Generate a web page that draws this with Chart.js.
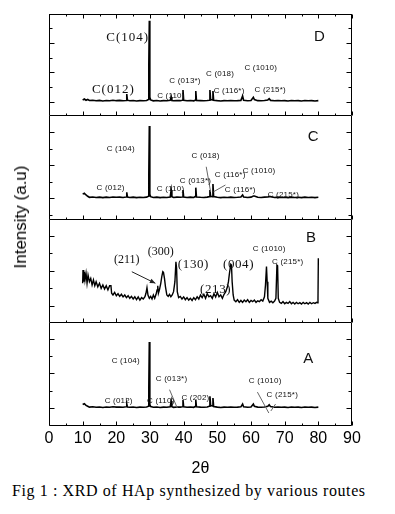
<!DOCTYPE html>
<html><head><meta charset="utf-8">
<script src="https://cdn.jsdelivr.net/npm/chart.js@4.4.1/dist/chart.umd.min.js"></script>
<style>
body{margin:0;background:#fff;width:395px;height:514px;position:relative;overflow:hidden}
canvas{position:absolute;left:0}
#ytitle{position:absolute;left:21px;top:217px;transform:translate(-50%,-50%) rotate(-90deg);font:17px "Liberation Sans";white-space:nowrap;color:#000}
#caption{position:absolute;left:12px;top:482px;line-height:20px;font:16px "Liberation Serif";letter-spacing:0.6px;white-space:nowrap;color:#000}
</style></head><body>
<canvas id="cD" width="395" height="102" style="top:14px"></canvas>
<canvas id="cC" width="395" height="104" style="top:116px"></canvas>
<canvas id="cB" width="395" height="103" style="top:220px"></canvas>
<canvas id="cA" width="395" height="155" style="top:323px"></canvas>
<div id="ytitle">Intensity (a.u)</div>
<div id="caption">Fig 1 : XRD of HAp synthesized by various routes</div>
<script>
// ---------- data ----------
const xTickValues = [0,10,20,30,40,50,60,70,80,90];

// 2θ sampling used for the calcite-rich patterns (A, C, D)
const xCal = [10,10.5,11,11.5,12,13,14,15,16,17,18,19,20,21,22,22.9,23.1,23.3,24,25,26,27,28,29,29.5,29.65,29.8,29.95,30.2,31,32,33,34,35,36,36.3,36.5,37,38,39,39.6,39.8,40,41,42,43,43.4,43.6,43.8,45,46,47,47.6,47.8,48,48.5,48.7,48.9,50,51,52,53,54,55,56,57,57.5,57.8,59,60,60.7,61,62,63,64,65,65.4,65.8,67,68,69,70,71,72,73,74,75,76,77,78,79,80];

const yD = [0.12,0.18,0.1,0.15,0.08,0.1,0.06,0.09,0.05,0.08,0.06,0.1,0.07,0.09,0.06,0.08,0.52,0.1,0.06,0.08,0.05,0.07,0.06,0.08,0.15,2.5,5.5,0.3,0.12,0.06,0.08,0.05,0.07,0.06,0.09,0.32,0.08,0.06,0.08,0.07,0.1,0.8,0.1,0.06,0.08,0.06,0.1,0.73,0.08,0.07,0.06,0.08,0.1,0.8,0.15,0.12,0.73,0.1,0.07,0.05,0.07,0.06,0.08,0.06,0.07,0.09,0.39,0.1,0.06,0.08,0.3,0.15,0.07,0.06,0.08,0.12,0.2,0.09,0.06,0.08,0.06,0.07,0.05,0.08,0.06,0.07,0.05,0.08,0.06,0.07,0.05,0.07];

const yC = [0.25,0.3,0.2,0.12,0.06,0.08,0.05,0.07,0.04,0.07,0.05,0.08,0.06,0.07,0.05,0.08,0.36,0.08,0.05,0.07,0.04,0.06,0.05,0.07,0.12,1.4,4.36,0.25,0.1,0.05,0.07,0.04,0.06,0.05,0.08,0.5,0.1,0.05,0.07,0.06,0.08,0.5,0.08,0.05,0.07,0.05,0.1,0.64,0.08,0.06,0.05,0.07,0.1,0.5,0.12,0.1,0.86,0.1,0.06,0.04,0.06,0.05,0.07,0.05,0.06,0.08,0.2,0.08,0.05,0.07,0.14,0.14,0.06,0.05,0.07,0.08,0.1,0.1,0.05,0.07,0.05,0.06,0.04,0.07,0.05,0.06,0.04,0.07,0.05,0.06,0.04,0.06];

const yA = [0.2,0.25,0.15,0.1,0.05,0.07,0.04,0.06,0.03,0.06,0.04,0.07,0.05,0.06,0.04,0.07,0.23,0.06,0.04,0.06,0.03,0.05,0.04,0.06,0.1,1.16,3.82,0.2,0.08,0.04,0.06,0.03,0.05,0.04,0.07,0.4,0.08,0.04,0.06,0.05,0.07,0.46,0.07,0.04,0.06,0.04,0.08,0.46,0.07,0.05,0.04,0.06,0.1,0.68,0.15,0.12,0.58,0.08,0.05,0.03,0.05,0.04,0.06,0.04,0.05,0.07,0.23,0.07,0.04,0.06,0.23,0.1,0.05,0.04,0.06,0.1,0.19,0.08,0.04,0.06,0.04,0.05,0.03,0.06,0.04,0.05,0.03,0.06,0.04,0.05,0.03,0.05];

const xB = [10.0,10.1,10.3,10.5,10.7,11.0,11.3,11.6,12.0,12.4,12.8,13.2,13.6,14.0,14.5,15.0,15.5,16.0,16.5,17.0,17.5,18.0,18.4,18.6,19.0,19.5,20.0,20.5,21.0,21.5,22.0,22.5,23.0,23.5,24.0,24.5,25.0,25.5,26.0,26.5,27.0,27.5,28.0,28.5,28.8,29.1,29.4,29.8,30.2,30.6,31.0,31.4,31.8,32.1,32.3,32.5,32.8,33.2,33.5,33.8,34.0,34.3,34.6,35.0,35.4,35.8,36.2,36.6,37.0,37.4,37.7,37.9,38.1,38.5,39.0,39.5,40,40.5,41,41.5,42,42.5,43,43.5,44,44.5,45,45.5,46,46.5,47,47.5,48,48.5,49,49.5,50,50.5,51,51.5,52,52.5,53.0,53.3,53.6,54.0,54.2,54.4,54.7,55.0,55.5,56,56.5,57,57.5,58,58.5,59,59.5,60,60.5,61,61.5,62,62.5,63,63.5,64.0,64.3,64.6,64.8,65.0,65.5,66,66.5,67,67.4,67.7,67.9,68.1,68.5,69,69.5,70,70.5,71,71.5,72,72.5,73,73.5,74,74.5,75,75.5,76,76.5,77,77.5,78,78.5,79,79.5,79.8,79.9,80.0];
const yB = [1.27,2.03,1.36,1.93,1.46,1.84,1.27,1.74,1.36,1.55,1.17,1.46,1.13,1.36,1.07,1.27,0.98,1.17,0.94,1.13,0.89,1.13,1.13,0.70,0.6,0.75,0.56,0.67,0.52,0.64,0.49,0.6,0.45,0.56,0.41,0.52,0.37,0.5,0.33,0.49,0.31,0.45,0.37,0.5,0.7,1.02,0.6,0.41,0.52,0.37,0.6,0.41,0.64,0.89,1.13,0.7,0.89,1.27,1.65,1.93,1.89,1.55,1.07,0.6,0.52,0.64,0.5,0.6,0.79,1.36,2.5,2.13,0.79,0.45,0.52,0.37,0.49,0.33,0.45,0.31,0.41,0.29,0.45,0.33,0.5,0.37,0.6,0.45,0.64,0.41,0.67,0.5,0.56,0.41,0.67,0.49,0.75,0.5,0.6,0.41,0.64,0.79,1.07,1.36,1.84,2.35,2.31,1.36,0.6,0.31,0.22,0.33,0.18,0.29,0.18,0.31,0.22,0.33,0.18,0.29,0.22,0.31,0.18,0.27,0.22,0.33,0.25,0.5,1.17,2.22,1.36,0.41,0.18,0.25,0.16,0.25,0.41,2.31,2.27,0.41,0.18,0.12,0.22,0.1,0.18,0.12,0.22,0.1,0.18,0.08,0.18,0.1,0.16,0.08,0.18,0.1,0.16,0.08,0.18,0.1,0.16,0.12,0.18,0.15,0.4,2.7];

// peak labels: [text, 2θ, intensity, style]
const labelsD = [['C(104)',23.4,4.33,'big'],['C(012)',19.1,0.8,'big'],['C (110)',36.2,0.39,'sm'],['C (013*)',40.4,1.41,'sm'],['C (018)',50.8,1.88,'sm'],['C (1010)',62.9,2.29,'sm'],['C (116*)',53.5,0.73,'sm'],['C (215*)',65.7,0.8,'sm'],['D',80.3,4.4,'panel']];
const labelsC = [['C (104)',21.3,2.97,'sm'],['C (012)',18.3,0.62,'sm'],['C (110)',36.1,0.56,'sm'],['C (013*)',43.5,1.04,'sm'],['C (018)',46.5,2.55,'sm'],['C (116*)',53.8,1.4,'sm'],['C (1010)',62.4,1.64,'sm'],['C (116*)',56.8,0.5,'sm'],['C (215*)',69.6,0.2,'sm'],['C',78.5,3.69,'panel']];
const labelsB = [['(211)',23.1,2.6,'serif'],['(300)',33.2,3.06,'serif'],['(130)',42.9,2.31,'serifW'],['(004)',56.3,2.31,'serifW'],['(213)',49.5,0.89,'serifW'],['C (1010)',65.4,3.23,'sm'],['C (215*)',70.9,2.49,'sm'],['B',77.8,3.86,'panel']];
const labelsA = [['C (104)',22.8,2.72,'sm'],['C (013*)',36.4,1.68,'sm'],['C (012)',20.7,0.4,'sm'],['C (110)',33.2,0.4,'sm'],['C (202)',43.5,0.58,'sm'],['C (1010)',64.2,1.56,'sm'],['C (215*)',69.3,0.75,'sm'],['A',77.0,2.83,'panel']];
const leadersC = [[46.7,1.9,48.0,0.4],[48.9,0.4,52.4,0.8]];
const leadersA = [[35.8,1.06,38.1,0],[61.9,0.92,65.3,-0.29],[65.9,-0.17,67.3,0.23]];
const arrowB = [24.6,1.93,31.6,1.27];

// ---------- drawing ----------
const fonts = {
  sm: ['8px "Liberation Sans"','0.2px'],
  big: ['13px "Liberation Serif"','1px'],
  serif: ['12px "Liberation Serif"','0px'],
  serifW: ['13px "Liberation Serif"','0.6px'],
  panel: ['15px "Liberation Sans"','0px']
};

const panelPlugin = {
  id: 'panel',
  afterDatasetsDraw(chart, args, o) {
    const {ctx, chartArea: a, scales: {x, y}} = chart;
    ctx.save();
    ctx.strokeStyle = '#000'; ctx.lineWidth = 1;
    const L = a.left + 0.5, R = a.right - 0.5, B = a.bottom - 0.5, T = a.top + 0.5;
    ctx.beginPath();
    ctx.moveTo(L, a.top); ctx.lineTo(L, B); ctx.lineTo(R, B); ctx.lineTo(R, a.top);
    if (o.topEdge) { ctx.moveTo(L, T); ctx.lineTo(R, T); }
    for (let i = 0; i < xTickValues.length; i++) {
      const v = xTickValues[i];
      const px = Math.round(x.getPixelForValue(v)) + 0.5;
      ctx.moveTo(px, B); ctx.lineTo(px, B - 4);
      if (o.topEdge) { ctx.moveTo(px, T); ctx.lineTo(px, T + 4); }
      if (i < xTickValues.length - 1) {
        const pm = Math.round(x.getPixelForValue((v + xTickValues[i + 1]) / 2)) + 0.5;
        ctx.moveTo(pm, B); ctx.lineTo(pm, B - 2);
        if (o.topEdge) { ctx.moveTo(pm, T); ctx.lineTo(pm, T + 2); }
      }
    }
    for (let v = Math.ceil(y.min); v <= y.max; v++) {
      const py = Math.round(y.getPixelForValue(v)) + 0.5;
      if (py <= a.top + 1 || py >= a.bottom - 1) continue;
      const len = v % 2 === 0 ? 5 : 3;
      ctx.moveTo(L, py); ctx.lineTo(L + len, py);
      ctx.moveTo(R, py); ctx.lineTo(R - len, py);
    }
    ctx.stroke();
    ctx.strokeStyle = '#666';
    (o.leaders || []).forEach(l => {
      ctx.beginPath();
      ctx.moveTo(x.getPixelForValue(l[0]), y.getPixelForValue(l[1]));
      ctx.lineTo(x.getPixelForValue(l[2]), y.getPixelForValue(l[3]));
      ctx.stroke();
    });
    if (o.arrow) {
      const x1 = x.getPixelForValue(o.arrow[0]), y1 = y.getPixelForValue(o.arrow[1]);
      const x2 = x.getPixelForValue(o.arrow[2]), y2 = y.getPixelForValue(o.arrow[3]);
      ctx.strokeStyle = '#222'; ctx.fillStyle = '#222';
      ctx.beginPath(); ctx.moveTo(x1, y1); ctx.lineTo(x2, y2); ctx.stroke();
      const ang = Math.atan2(y2 - y1, x2 - x1);
      ctx.beginPath();
      ctx.moveTo(x2, y2);
      ctx.lineTo(x2 - 6 * Math.cos(ang - 0.4), y2 - 6 * Math.sin(ang - 0.4));
      ctx.lineTo(x2 - 6 * Math.cos(ang + 0.4), y2 - 6 * Math.sin(ang + 0.4));
      ctx.closePath(); ctx.fill();
    }
    ctx.fillStyle = '#111'; ctx.textAlign = 'center'; ctx.textBaseline = 'middle';
    (o.labels || []).forEach(([t, vx, vy, f]) => {
      ctx.font = fonts[f][0];
      ctx.letterSpacing = fonts[f][1];
      ctx.fillText(t, x.getPixelForValue(vx), y.getPixelForValue(vy));
    });
    ctx.restore();
  }
};

function makeChart(id, xs, ys, yMin, yMax, opts, showX, lw) {
  return new Chart(document.getElementById(id), {
    type: 'line',
    data: { datasets: [{ data: xs.map((v, i) => ({x: v, y: ys[i]})), borderColor: '#000', borderWidth: lw, pointRadius: 0, tension: 0, fill: false }] },
    options: {
      responsive: false, animation: false, devicePixelRatio: 1,
      layout: { padding: { left: 49, right: 43, top: 0, bottom: 0 } },
      plugins: { legend: { display: false }, tooltip: { enabled: false }, panel: opts },
      scales: {
        x: showX ? {
          type: 'linear', min: 0, max: 90, display: true,
          afterFit: s => { s.height = 52; },
          grid: { display: false, drawTicks: false }, border: { display: false },
          ticks: { stepSize: 10, autoSkip: false, maxRotation: 0, padding: 3, color: '#000',
                   font: { family: 'Liberation Sans', size: 16 },
                   callback: v => xTickValues.includes(v) ? String(v) : '' },
          title: { display: true, text: '2θ', color: '#000', padding: 0, font: { family: 'Liberation Sans', size: 16 } }
        } : { type: 'linear', min: 0, max: 90, display: false },
        y: { type: 'linear', min: yMin, max: yMax, display: false }
      }
    },
    plugins: [panelPlugin]
  });
}

makeChart('cD', xCal, yD, -0.973, 5.966, { topEdge: true, labels: labelsD }, false, 1.6);
makeChart('cC', xCal, yC, -1.307, 4.958, { labels: labelsC, leaders: leadersC }, false, 1.6);
makeChart('cB', xB, yB, -1.0, 4.886, { labels: labelsB, arrow: arrowB }, false, 1.4);
makeChart('cA', xCal, yA, -1.04, 4.913, { labels: labelsA, leaders: leadersA }, true, 1.6);
</script>
</body></html>
